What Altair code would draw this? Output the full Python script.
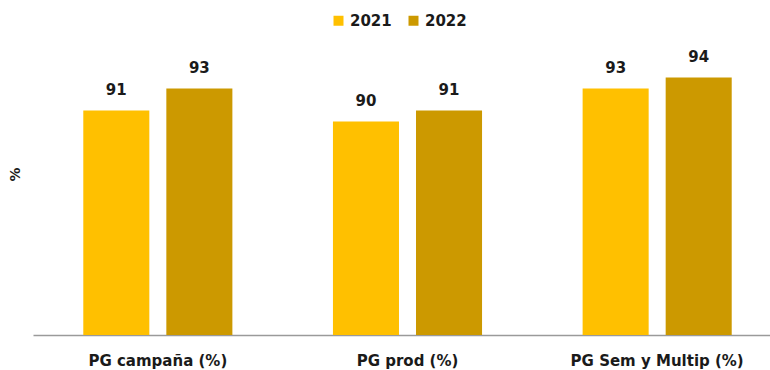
import altair as alt
import pandas as pd

categories = ["PG campaña (%)", "PG prod (%)", "PG Sem y Multip (%)"]
years = ["2021", "2022"]
v2021 = [91, 90, 93]
v2022 = [93, 91, 94]
colors = ["#FFC000", "#CC9900"]
y_min, y_max = 70.6, 97.4

rows = []
for c, a, b in zip(categories, v2021, v2022):
    rows.append({"cat": c, "year": "2021", "value": a})
    rows.append({"cat": c, "year": "2022", "value": b})
df = pd.DataFrame(rows)

FONT = "DejaVu Sans"

x = alt.X("cat:N", sort=categories,
          scale=alt.Scale(range=[0, 749], paddingInner=0, paddingOuter=0),
          axis=alt.Axis(title=None, labelFont=FONT, labelFontSize=15, labelFontWeight="bold",
                        labelColor="#1a1a1a", labelAngle=0, ticks=False, tickSize=0,
                        labelBaseline="alphabetic", labelPadding=30,
                        domainColor="#9a9a9a", domainWidth=1.5))
xo = alt.XOffset("year:N", sort=years,
                 scale=alt.Scale(paddingInner=0.2048, paddingOuter=0.6055))
y = alt.Y("value:Q",
          scale=alt.Scale(domain=[y_min, y_max], nice=False, zero=False),
          axis=alt.Axis(title="%", labels=False, ticks=False, domain=False, grid=False,
                        titleFont=FONT, titleFontSize=14, titleFontWeight="bold",
                        titleColor="#1a1a1a", titleAngle=-90, titleX=-17.7, titleY=134,
                        titleAlign="center", titleBaseline="middle"))

bars = alt.Chart(df).mark_bar().encode(
    x=x, xOffset=xo, y=y, y2=alt.Y2(datum=y_min),
    color=alt.Color("year:N", sort=years,
                    scale=alt.Scale(domain=years, range=colors),
                    legend=alt.Legend(title=None, orient="none", direction="horizontal",
                                      legendX=298, legendY=-27,
                                      symbolType="square", symbolSize=100, symbolStrokeWidth=0,
                                      labelFont=FONT, labelFontSize=15, labelFontWeight="bold",
                                      labelColor="#1a1a1a", labelOffset=4, columnPadding=14,
                                      padding=0))
)

labels = alt.Chart(df).mark_text(font=FONT, fontSize=15, fontWeight="bold", color="#1a1a1a",
                                 baseline="alphabetic", dy=-15.5).encode(
    x=x, xOffset=xo, y=y, text=alt.Text("value:Q")
)

chart = alt.layer(bars, labels).properties(
    width=737, height=295,
    background="white",
    autosize=alt.AutoSizeParams(type="none"),
    padding={"left": 33, "top": 40, "right": 0, "bottom": 35},
).configure_view(stroke="transparent", strokeWidth=0)

chart.save("out.html", embed_options={"renderer": "svg", "actions": False})
